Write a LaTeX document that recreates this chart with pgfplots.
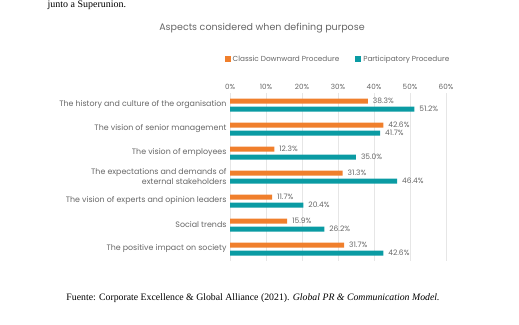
\documentclass[border=0pt]{standalone}
\usepackage{pgfplots}
\pgfplotsset{compat=1.18}
\usepackage{fontspec}
\setmainfont{Poppins}
\newfontfamily\footfont{Liberation Serif}
\definecolor{corange}{HTML}{F07F2C}
\definecolor{cteal}{HTML}{0A9BA3}
\definecolor{ctext}{HTML}{666666}
\definecolor{cgrid}{HTML}{E6E6E6}
\begin{document}
\begin{tikzpicture}[x=1pt,y=1pt]
\path[use as bounding box] (0,0) rectangle (519,324);
\node[anchor=west,font=\footfont\fontsize{10}{11}\selectfont] at (44,319) {junto a Superunion.};
\node[font=\fontsize{9.5}{11}\selectfont, text=ctext] at (262,296) {Aspects considered when defining purpose};
\begin{axis}[
  at={(230pt,63pt)}, anchor=south west,
  scale only axis, width=216pt, height=168pt,
  xbar, bar width=5pt,
  xmin=0, xmax=60, ymin=-0.5, ymax=6.5, y dir=reverse,
  xtick={0,10,...,60},
  xticklabel pos=upper,
  xticklabel={\pgfmathprintnumber{\tick}\%},
  /pgf/number format/assume math mode=true,
  ytick={0,...,6},
  yticklabels={The history and culture of the organisation,The vision of senior management,The vision of employees,{The expectations and demands of\\external stakeholders},The vision of experts and opinion leaders,Social trends,The positive impact on society},
  yticklabel style={align=right, font=\fontsize{7.9}{10}\selectfont, text=ctext},
  xticklabel style={font=\fontsize{7.2}{8}\selectfont, text=ctext},
  major tick length=0pt,
  axis line style={draw=none},
  xmajorgrids, grid style={cgrid, line width=0.6pt},
  point meta=x,
  nodes near coords={\pgfmathprintnumber[fixed,fixed zerofill,precision=1]{\pgfplotspointmeta}\%},
  nodes near coords style={font=\fontsize{7.5}{8}\selectfont, text=ctext, anchor=west, xshift=1.5pt},
  legend style={at={(0.5,1)}, anchor=south, yshift=26pt, draw=none, fill=none,
    font=\fontsize{7.3}{8}\selectfont, text=ctext,
    /tikz/every even column/.append style={column sep=14pt}},
  legend columns=2,
  legend image code/.code={\fill[#1] (0pt,-3pt) rectangle (6pt,3pt);},
  clip=false,
]
\addplot[fill=corange, draw=none, bar shift=4pt] coordinates {(38.3,0) (42.6,1) (12.3,2) (31.3,3) (11.7,4) (15.9,5) (31.7,6)};
\addplot[fill=cteal, draw=none, bar shift=-4pt] coordinates {(51.2,0) (41.7,1) (35.0,2) (46.4,3) (20.4,4) (26.2,5) (42.6,6)};
\legend{Classic Downward Procedure, Participatory Procedure}
\end{axis}
\node[font=\footfont\fontsize{9.8}{11}\selectfont] at (253,26) {Fuente: Corporate Excellence \& Global Alliance (2021). \textit{Global PR \& Communication Model.}};
\end{tikzpicture}
\end{document}
